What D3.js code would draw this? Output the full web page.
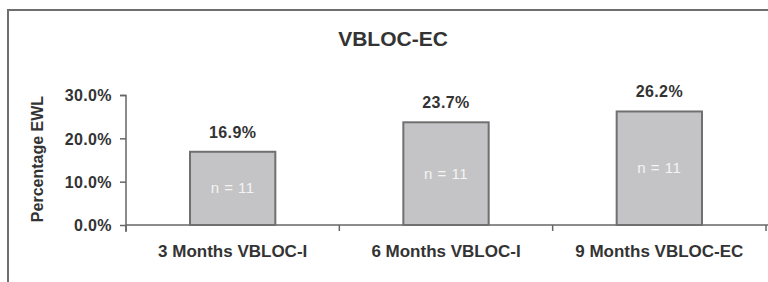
<!DOCTYPE html>
<html lang="en">
<head>
  <meta charset="UTF-8">
  <title>VBLOC-EC</title>
  <script src="https://d3js.org/d3.v7.min.js"></script>
  <style>
    body { margin: 0; background: #fff; }
    svg text { font-family: "Liberation Sans", Arial, sans-serif; fill: #333; }
    .bold { font-weight: bold; }
  </style>
</head>
<body>
<svg width="768" height="282"></svg>
<script>
  const categories = ["3 Months VBLOC-I", "6 Months VBLOC-I", "9 Months VBLOC-EC"];
  const values = [16.9, 23.7, 26.2];
  const nLabels = ["n = 11", "n = 11", "n = 11"];
  const yTicks = [0, 10, 20, 30];

  const svg = d3.select("svg");

  // outer frame (runs off the right and bottom edge)
  svg.append("path")
    .attr("d", "M8,290 L8,10 L780,10")
    .attr("fill", "none")
    .attr("stroke", "#6e6e6e")
    .attr("stroke-width", 2);

  svg.append("text")
    .attr("class", "bold")
    .attr("x", 393).attr("y", 46)
    .attr("text-anchor", "middle")
    .style("font-size", "21px")
    .text("VBLOC-EC");

  const x = d3.scaleBand()
    .domain(categories)
    .range([126, 766])
    .paddingInner(0.6)
    .paddingOuter(0.3);

  const y = d3.scaleLinear().domain([0, 30]).range([225, 95]);

  // y axis
  const yAxis = svg.append("g")
    .attr("transform", "translate(126,0)")
    .call(d3.axisLeft(y).tickValues(yTicks).tickSize(6).tickPadding(8)
      .tickFormat(d => d.toFixed(1) + "%"));
  yAxis.select(".domain").attr("d", "M-6,95.5H0V232").attr("stroke", "#666").attr("stroke-width", 1.5);
  yAxis.selectAll(".tick line").attr("stroke", "#666").attr("stroke-width", 1.5);
  yAxis.selectAll(".tick text")
    .attr("class", "bold")
    .style("font-size", "16px")
    .style("letter-spacing", "0.4px")
    .attr("dy", "0.36em");

  // x axis line with ticks at band boundaries
  const step = x.step();
  const bounds = [126].concat(categories.map(c => x(c) + x.bandwidth() + step * 0.3));
  svg.append("line")
    .attr("x1", 126).attr("x2", 768)
    .attr("y1", y(0)).attr("y2", y(0))
    .attr("stroke", "#666").attr("stroke-width", 1.5);
  svg.selectAll(".xtick")
    .data(bounds)
    .enter().append("line")
    .attr("x1", d => d).attr("x2", d => d)
    .attr("y1", y(0)).attr("y2", y(0) + 6)
    .attr("stroke", "#666").attr("stroke-width", 1.5);

  // bars
  svg.selectAll(".bar")
    .data(values)
    .enter().append("rect")
    .attr("x", (d, i) => x(categories[i]))
    .attr("y", d => y(d))
    .attr("width", x.bandwidth())
    .attr("height", d => y(0) - y(d))
    .attr("fill", "#c4c4c6")
    .attr("stroke", "#707070")
    .attr("stroke-width", 2);

  // value labels
  svg.selectAll(".val")
    .data(values)
    .enter().append("text")
    .attr("class", "bold")
    .attr("x", (d, i) => x(categories[i]) + x.bandwidth() / 2)
    .attr("y", d => y(d) - 14)
    .attr("text-anchor", "middle")
    .style("font-size", "16px")
    .style("letter-spacing", "0.4px")
    .text(d => d.toFixed(1) + "%");

  // n labels inside bars
  svg.selectAll(".nlab")
    .data(values)
    .enter().append("text")
    .attr("x", (d, i) => x(categories[i]) + x.bandwidth() / 2)
    .attr("y", d => (y(d) + y(0)) / 2 + 5)
    .attr("text-anchor", "middle")
    .style("font-size", "15px")
    .style("letter-spacing", "0.5px")
    .style("fill", "#f4f4f4")
    .text((d, i) => nLabels[i]);

  // category labels
  svg.selectAll(".cat")
    .data(categories)
    .enter().append("text")
    .attr("class", "bold")
    .attr("x", d => x(d) + x.bandwidth() / 2)
    .attr("y", 257)
    .attr("text-anchor", "middle")
    .style("font-size", "17px")
    .text(d => d);

  // y axis title
  svg.append("text")
    .attr("class", "bold")
    .attr("transform", "translate(43,159) rotate(-90)")
    .attr("text-anchor", "middle")
    .style("font-size", "16px")
    .text("Percentage EWL");
</script>
</body>
</html>
